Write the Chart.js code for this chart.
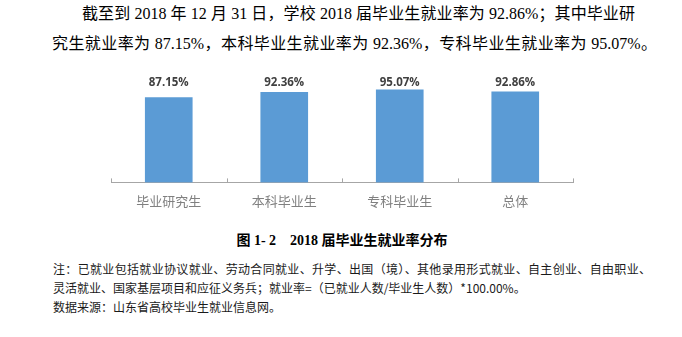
<!DOCTYPE html>
<html>
<head>
<meta charset="utf-8">
<script src="https://cdn.jsdelivr.net/npm/chart.js@4/dist/chart.umd.min.js"></script>
<style>
  html, body { margin: 0; padding: 0; background: #fff; }
  body { width: 682px; height: 337px; position: relative; overflow: hidden; }
  .line { position: absolute; white-space: nowrap; color: #000; }
  .para { font: 16px "Liberation Serif", "Noto Sans CJK SC", serif; line-height: 20px; text-align: justify; text-align-last: justify; }
  .note { font: 12px "Noto Sans CJK SC", sans-serif; line-height: 16px; color: #1a1a1a; }
  .note.full { text-align: justify; text-align-last: justify; }
  .caption { left: 0; width: 684px; text-align: center; font: bold 14px "Liberation Serif", "Noto Sans CJK SC", serif; line-height: 18px; }
  #chartBox { position: absolute; left: 100px; top: 60px; width: 490px; height: 160px; }
</style>
</head>
<body>
<div class="line para" style="left:82px; top:4px; width:553px;">截至到 2018 年 12 月 31 日，学校 2018 届毕业生就业率为 92.86%；其中毕业研</div>
<div class="line para" style="left:52px; top:34px; width:605px;">究生就业率为 87.15%，本科毕业生就业率为 92.36%，专科毕业生就业率为 95.07%。</div>

<div id="chartBox"><canvas id="rateChart" width="490" height="160"></canvas></div>

<div class="line caption" style="top:232px;">图 1- 2　2018 届毕业生就业率分布</div>

<div class="line note full" style="left:53px; top:261px; width:598px;">注：已就业包括就业协议就业、劳动合同就业、升学、出国（境）、其他录用形式就业、自主创业、自由职业、</div>
<div class="line note" style="left:53px; top:280px;">灵活就业、国家基层项目和应征义务兵；就业率=（已就业人数/毕业生人数）*100.00%。</div>
<div class="line note" style="left:53px; top:299px;">数据来源：山东省高校毕业生就业信息网。</div>

<script>
// 2018 届各类毕业生就业率（%）
const categories = ["毕业研究生", "本科毕业生", "专科毕业生", "总体"];
const rates = [87.15, 92.36, 95.07, 92.86];
const rateMin = 0;
const rateMax = 100;

const barColor = "#5b9bd5";
const axisColor = "#a6a6a6";

// 数值标签统一放在绘图区顶部一行
const rateLabels = {
  id: "rateLabels",
  afterDatasetsDraw(chart) {
    const { ctx, chartArea } = chart;
    const bars = chart.getDatasetMeta(0).data;
    ctx.save();
    ctx.font = 'bold 11.5px "Open Sans", sans-serif';
    ctx.fillStyle = "#404040";
    ctx.textAlign = "center";
    ctx.textBaseline = "middle";
    bars.forEach((bar, i) => {
      ctx.fillText(rates[i].toFixed(2) + "%", bar.x, chartArea.top - 2);
    });
    ctx.restore();
  }
};

// 分类边界上的短刻度线，朝上
const axisTicks = {
  id: "axisTicks",
  afterDraw(chart) {
    const { ctx, chartArea } = chart;
    const x = chart.scales.x;
    ctx.save();
    ctx.strokeStyle = axisColor;
    ctx.lineWidth = 1;
    ctx.beginPath();
    for (let i = 0; i <= categories.length; i++) {
      const px = Math.round(x.getPixelForValue(i - 0.5)) + 0.5;
      ctx.moveTo(px, chartArea.bottom - 4);
      ctx.lineTo(px, chartArea.bottom);
    }
    ctx.stroke();
    ctx.restore();
  }
};

new Chart(document.getElementById("rateChart").getContext("2d"), {
  type: "bar",
  data: {
    labels: categories,
    datasets: [{
      label: "就业率",
      data: rates,
      backgroundColor: barColor,
      barThickness: 47
    }]
  },
  options: {
    responsive: false,
    animation: false,
    layout: { padding: { left: 11, right: 17, top: 25, bottom: 0 } },
    plugins: { legend: { display: false }, tooltip: { enabled: false } },
    scales: {
      y: { display: false, min: rateMin, max: rateMax },
      x: {
        grid: { drawOnChartArea: false, drawTicks: false },
        border: { color: axisColor, width: 1 },
        ticks: {
          padding: 11,
          color: "#808080",
          font: { family: '"Noto Sans CJK SC", sans-serif', size: 13 }
        }
      }
    }
  },
  plugins: [rateLabels, axisTicks]
});
</script>
</body>
</html>
